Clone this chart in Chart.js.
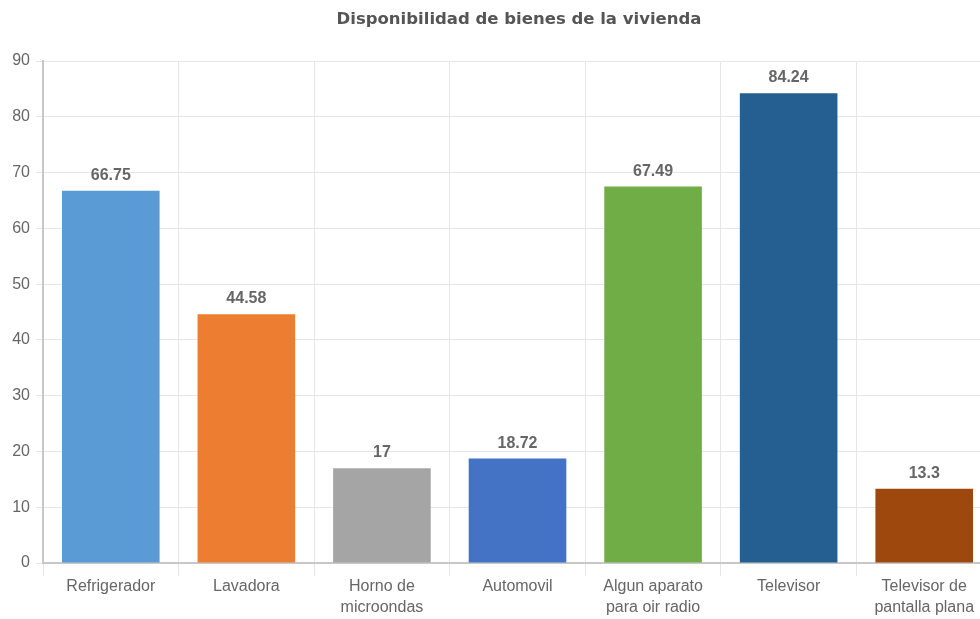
<!DOCTYPE html>
<html>
<head>
<meta charset="utf-8">
<script src="https://cdn.jsdelivr.net/npm/chart.js@4/dist/chart.umd.min.js"></script>
<style>
html,body{margin:0;padding:0;background:#fff;overflow:hidden;}
#wrap{width:980px;height:619px;overflow:hidden;position:relative;}
canvas{display:block;}
</style>
</head>
<body>
<div id="wrap"><canvas id="c" width="1038" height="619"></canvas></div>
<script>
const titleText = "Disponibilidad de bienes de la vivienda";
const categories = [
  "Refrigerador",
  "Lavadora",
  ["Horno de", "microondas"],
  "Automovil",
  ["Algun aparato", "para oir radio"],
  "Televisor",
  ["Televisor de", "pantalla plana"]
];
const values = [66.75, 44.58, 17, 18.72, 67.49, 84.24, 13.3];
const barColors = ["#5B9BD5", "#ED7D31", "#A5A5A5", "#4472C4", "#70AD47", "#255E91", "#9E480E"];
const yMin = 0, yMax = 90, yStep = 10;

const FONT = "'Liberation Sans', Arial, sans-serif";
const TITLE_FONT = "'DejaVu Sans', Verdana, sans-serif";

const valueLabels = {
  id: 'valueLabels',
  afterDatasetsDraw(chart) {
    const ctx = chart.ctx;
    const meta = chart.getDatasetMeta(0);
    ctx.save();
    ctx.font = "bold 16px " + FONT;
    ctx.fillStyle = "#666";
    ctx.textAlign = "center";
    ctx.textBaseline = "alphabetic";
    meta.data.forEach((bar, i) => {
      ctx.fillText(String(values[i]), bar.x, bar.y - 11);
    });
    ctx.restore();
  }
};

new Chart(document.getElementById('c'), {
  type: 'bar',
  data: {
    labels: categories,
    datasets: [{
      data: values,
      yAxisID: 'y',
      backgroundColor: barColors,
      borderWidth: 0,
      categoryPercentage: 0.8,
      barPercentage: 0.9
    }]
  },
  options: {
    responsive: false,
    animation: false,
    layout: { padding: 0 },
    plugins: {
      legend: { display: false },
      tooltip: { enabled: false },
      title: {
        display: true,
        text: titleText,
        color: "#555",
        font: { family: TITLE_FONT, size: 16.5, weight: 'bold' },
        padding: { top: 10, bottom: 31.2 }
      }
    },
    scales: {
      x: {
        grid: { color: "#e6e6e6", tickLength: 13, offset: true, tickColor: "#e6e6e6" },
        border: { color: "#c8c8c8", width: 2 },
        ticks: {
          color: "#666",
          font: { family: FONT, size: 16, lineHeight: 1.3 },
          padding: 0,
          maxRotation: 0,
          autoSkip: false
        },
        afterFit(s) { s.height = 56; }
      },
      y: {
        min: yMin, max: yMax,
        grid: { color: "#e6e6e6", tickLength: 7, tickColor: "#e6e6e6" },
        border: { color: "#c8c8c8", width: 2 },
        ticks: {
          stepSize: yStep,
          color: "#666",
          font: { family: FONT, size: 16 },
          padding: 6
        },
        afterFit(s) { s.width = 43; }
      },
      yRight: {
        position: 'right',
        min: yMin, max: yMax,
        grid: { display: false, drawOnChartArea: false },
        border: { display: false },
        ticks: { display: false },
        afterFit(s) { s.width = 46; }
      }
    }
  },
  plugins: [valueLabels]
});
</script>
</body>
</html>
